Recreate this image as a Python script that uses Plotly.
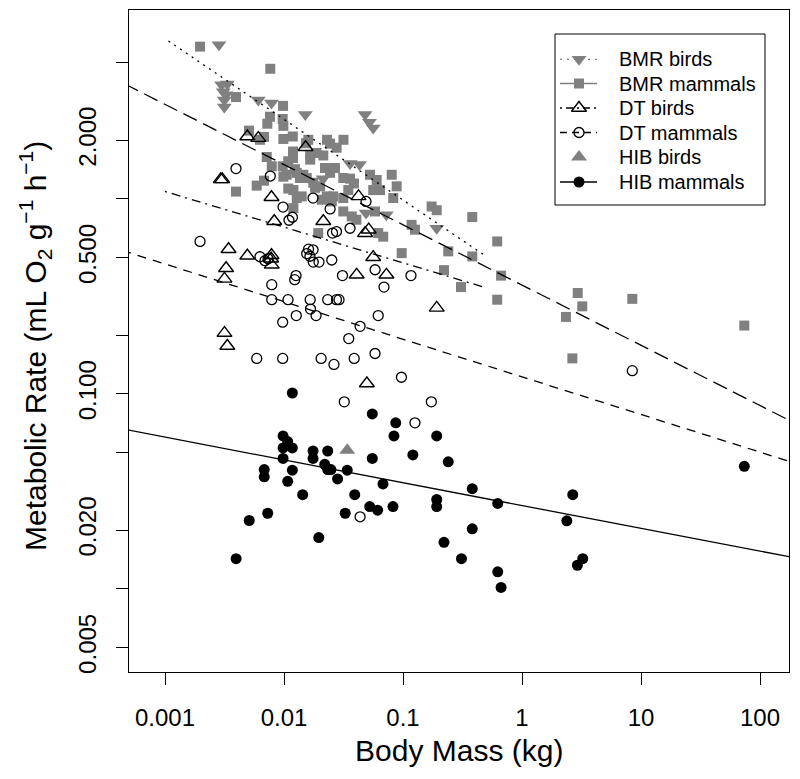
import plotly.graph_objects as go
import numpy as np

# ---------------- data (body mass in kg, metabolic rate in mL O2 g-1 h-1) ----------------
bmr_birds_mass = [0.00284, 0.00299, 0.00334, 0.00309, 0.00326, 0.00315, 0.00315, 0.00608, 0.00785, 0.0151,
                  0.048, 0.0522, 0.0562, 0.0213, 0.0359, 0.0431, 0.0489, 0.0724, 0.192]
bmr_birds_rate = [6.17, 3.85, 3.89, 3.55, 3.42, 3.22, 2.96, 3.22, 3.10, 2.71,
                  2.71, 2.47, 2.31, 1.27, 1.52, 1.50, 0.846, 0.830, 0.708]

bmr_mammals_mass = [0.00197, 0.00767, 0.00395, 0.00982, 0.00762, 0.00724, 0.00975, 0.00988, 0.00508, 0.00628,
                    0.00679, 0.00988, 0.01186, 0.0160, 0.01531, 0.0230, 0.0244, 0.0277, 0.0316, 0.01191,
                    0.01191, 0.01086, 0.00716, 0.00789, 0.00975, 0.01054, 0.00988, 0.0166, 0.0166, 0.01875,
                    0.0214, 0.0221, 0.0268, 0.0244, 0.01236, 0.0128, 0.01452, 0.01553, 0.0136, 0.01762,
                    0.0059, 0.00679, 0.00395, 0.01086, 0.01824, 0.0201, 0.0315, 0.0359, 0.0387, 0.0347,
                    0.0528, 0.0601, 0.0562, 0.0641, 0.0804, 0.0885, 0.0120, 0.01409, 0.0128, 0.0229,
                    0.0259, 0.0315, 0.0828, 0.0120, 0.0315, 0.0371, 0.0406, 0.0582, 0.174, 0.192,
                    0.118, 0.126, 0.0619, 0.0682, 0.0194, 0.0975, 0.240, 0.221, 0.382, 0.382,
                    0.619, 0.667, 0.307, 0.619, 2.94, 3.21, 2.34, 8.45, 2.65, 73.8,
                    0.0208, 0.0252]
bmr_mammals_rate = [6.04, 4.65, 3.33, 3.00, 2.64, 2.43, 2.57, 2.37, 2.24, 2.01,
                    2.08, 2.03, 2.09, 2.01, 1.93, 2.01, 1.92, 1.83, 2.01, 1.75,
                    1.62, 1.56, 1.64, 1.47, 1.47, 1.33, 1.30, 1.68, 1.59, 1.72,
                    1.67, 1.44, 1.44, 1.36, 1.42, 1.36, 1.33, 1.28, 1.28, 1.21,
                    1.17, 1.24, 1.09, 1.13, 1.14, 1.16, 1.28, 1.27, 1.20, 1.11,
                    1.33, 1.25, 1.11, 1.11, 1.33, 1.16, 1.11, 1.03, 1.01, 1.03,
                    1.03, 1.01, 1.01, 0.897, 0.862, 0.813, 0.782, 0.862, 0.914, 0.875,
                    0.736, 0.695, 0.668, 0.640, 0.668, 0.527, 0.538, 0.431, 0.807, 0.507,
                    0.605, 0.404, 0.353, 0.304, 0.329, 0.281, 0.248, 0.307, 0.152, 0.224,
                    0.990, 0.970]

dt_birds_mass = [0.00492, 0.00608, 0.01518, 0.00294, 0.00303, 0.00785, 0.0423, 0.0214, 0.00828, 0.0515,
                 0.0480, 0.00342, 0.00492, 0.00785, 0.0078, 0.00789, 0.0562, 0.00326, 0.00316, 0.0408,
                 0.0726, 0.192, 0.00316, 0.00334, 0.0497]
dt_birds_rate = [2.09, 2.05, 1.84, 1.26, 1.26, 1.02, 1.03, 0.768, 0.768, 0.695,
                 0.667, 0.552, 0.511, 0.514, 0.493, 0.459, 0.502, 0.441, 0.389, 0.408,
                 0.408, 0.276, 0.205, 0.176, 0.113]

dt_mammals_mass = [0.00395, 0.00767, 0.01754, 0.0489, 0.00982, 0.0244, 0.01178, 0.01101, 0.0359, 0.0276,
                   0.0256, 0.00197, 0.00628, 0.00692, 0.00735, 0.01754, 0.01607, 0.01553, 0.01652, 0.01762,
                   0.01968, 0.0252, 0.01262, 0.0123, 0.0310, 0.0583, 0.0692, 0.1167, 0.00789, 0.00789,
                   0.01081, 0.0166, 0.0233, 0.0276, 0.0290, 0.0167, 0.01268, 0.0186, 0.0619, 0.00975,
                   0.0436, 0.0350, 0.0059, 0.00975, 0.0205, 0.0263, 0.0389, 0.0582, 0.0970, 0.0321,
                   0.173, 0.126, 0.0436, 8.45]
dt_mammals_rate = [1.43, 1.31, 1.01, 0.970, 0.908, 0.888, 0.805, 0.777, 0.707, 0.680,
                   0.668, 0.605, 0.505, 0.482, 0.493, 0.548, 0.552, 0.524, 0.508, 0.474,
                   0.474, 0.486, 0.404, 0.385, 0.404, 0.433, 0.353, 0.404, 0.363, 0.304,
                   0.304, 0.304, 0.304, 0.304, 0.304, 0.272, 0.252, 0.252, 0.252, 0.233,
                   0.222, 0.192, 0.152, 0.152, 0.152, 0.1415, 0.152, 0.161, 0.1216, 0.0910,
                   0.0910, 0.0710, 0.0234, 0.1315]

hib_birds_mass = [0.034]
hib_birds_rate = [0.0514]

hib_mammals_mass = [0.01175, 0.0552, 0.0869, 0.0839, 0.192, 0.00982, 0.01074, 0.00982, 0.01175, 0.01754,
                    0.0233, 0.01754, 0.00982, 0.0552, 0.121, 0.240, 0.0220, 0.0233, 0.0248, 0.0340,
                    0.01175, 0.00682, 0.00682, 0.01074, 0.0282, 0.0679, 0.01435, 0.0393, 0.382, 0.192,
                    0.192, 0.0525, 0.0612, 0.0824, 0.0327, 0.0073, 0.0051, 0.0196, 0.221, 0.382,
                    0.310, 0.00396, 0.625, 0.625, 0.667, 2.67, 2.38, 3.24, 2.92, 73.8]
hib_mammals_rate = [0.101, 0.0789, 0.0710, 0.0608, 0.0608, 0.0608, 0.0569, 0.0528, 0.0528, 0.0509,
                    0.0509, 0.0466, 0.0466, 0.0466, 0.0486, 0.0448, 0.0435, 0.0409, 0.0409, 0.0406,
                    0.0406, 0.0409, 0.0375, 0.0356, 0.0366, 0.0345, 0.0304, 0.0304, 0.0326, 0.0287,
                    0.0264, 0.0264, 0.0253, 0.0264, 0.0244, 0.0244, 0.0224, 0.0183, 0.0173, 0.0203,
                    0.01426, 0.01426, 0.0274, 0.01222, 0.01016, 0.0304, 0.0223, 0.01426, 0.0132, 0.0425]

# fitted lines: log10(rate) = intercept + slope * log10(mass), over a mass range
fit_names = ["BMR birds", "BMR mammals", "DT birds", "DT mammals", "HIB mammals"]
fit_intercepts = [-0.420, -0.442, -0.511, -0.913, -1.573]
fit_slopes = [-0.414, -0.309, -0.183, -0.193, -0.117]
fit_mass_min = [0.00107, 1e-4, 0.001, 1e-4, 1e-4]
fit_mass_max = [0.473, 1e3, 0.473, 1e3, 1e3]

x_tick_vals = [0.001, 0.01, 0.1, 1, 10, 100]
x_tick_text = ["0.001", "0.01", "0.1", "1", "10", "100"]
y_tick_vals = [2, 0.5, 0.1, 0.02, 0.005]
y_tick_text = ["2.000", "0.500", "0.100", "0.020", "0.005"]
y_minor_vals = [5, 1, 0.2, 0.05, 0.01]

# ---------------- styling ----------------
GRAY = "#808080"
FONT = "Liberation Sans, Arial, Helvetica, sans-serif"
LW = 1.3
fit_styles = {
    "BMR birds": dict(color="black", dash="2px,5px"),
    "BMR mammals": dict(color="black", dash="15px,7px"),
    "DT birds": dict(color="black", dash="2px,5px,9px,5px"),
    "DT mammals": dict(color="black", dash="9px,7px"),
    "HIB mammals": dict(color="black", dash="solid"),
}

fig = go.Figure()

fig.add_trace(go.Scatter(x=bmr_mammals_mass, y=bmr_mammals_rate, mode="markers", name="BMR mammals",
                         marker=dict(symbol="square", size=10, color=GRAY), showlegend=False))
fig.add_trace(go.Scatter(x=bmr_birds_mass, y=bmr_birds_rate, mode="markers", name="BMR birds",
                         marker=dict(symbol="triangle-down", size=13, color=GRAY), showlegend=False))
fig.add_trace(go.Scatter(x=dt_mammals_mass, y=dt_mammals_rate, mode="markers", name="DT mammals",
                         marker=dict(symbol="circle-open", size=10, color="black", line=dict(width=1.3)),
                         showlegend=False))
fig.add_trace(go.Scatter(x=dt_birds_mass, y=dt_birds_rate, mode="markers", name="DT birds",
                         marker=dict(symbol="triangle-up-open", size=13, color="black", line=dict(width=1.4)),
                         showlegend=False))
fig.add_trace(go.Scatter(x=hib_mammals_mass, y=hib_mammals_rate, mode="markers", name="HIB mammals",
                         marker=dict(symbol="circle", size=11, color="black"), showlegend=False))
fig.add_trace(go.Scatter(x=hib_birds_mass, y=hib_birds_rate, mode="markers", name="HIB birds",
                         marker=dict(symbol="triangle-up", size=14, color=GRAY), showlegend=False))

for name, a, b, m0, m1 in zip(fit_names, fit_intercepts, fit_slopes, fit_mass_min, fit_mass_max):
    xs = np.array([m0, m1])
    ys = 10 ** (a + b * np.log10(xs))
    st = fit_styles[name]
    fig.add_trace(go.Scatter(x=xs, y=ys, mode="lines", showlegend=False, hoverinfo="skip",
                             line=dict(color=st["color"], width=LW, dash=st["dash"])))

# ---------------- page geometry (page has an 8px body margin) ----------------
OFF = 8
W, H = 800 - 2 * OFF, 779 - 2 * OFF
PL, PR, PT, PB = 129, 789, 10, 672          # plot frame in page pixels

# ---------------- legend (drawn on an overlay pixel axis) ----------------
leg_labels = ["BMR birds", "BMR mammals", "DT birds", "DT mammals", "HIB birds", "HIB mammals"]
leg_rows = [59.3, 83.5, 108.0, 132.5, 157.0, 182.0]
leg_marker = [dict(symbol="triangle-down", size=13, color=GRAY),
              dict(symbol="square", size=10, color=GRAY),
              dict(symbol="triangle-up-open", size=13, color="black", line=dict(width=1.4)),
              dict(symbol="circle-open", size=10, color="black", line=dict(width=1.3)),
              dict(symbol="triangle-up", size=14, color=GRAY),
              dict(symbol="circle", size=11, color="black")]
leg_line = [dict(color=GRAY, dash="2px,5px"), dict(color=GRAY, dash="15px,7px"),
            dict(color="black", dash="2px,4px,7px,4px"), dict(color="black", dash="7px,5px"),
            None, dict(color="black", dash="solid")]
for lab, ry, mk, ln in zip(leg_labels, leg_rows, leg_marker, leg_line):
    if ln is not None:
        fig.add_trace(go.Scatter(x=[560, 597], y=[ry, ry], xaxis="x2", yaxis="y2", mode="lines",
                                 line=dict(width=LW, **ln), showlegend=False, hoverinfo="skip"))
    fig.add_trace(go.Scatter(x=[579], y=[ry], xaxis="x2", yaxis="y2", mode="markers",
                             marker=mk, showlegend=False, hoverinfo="skip"))
    fig.add_annotation(x=617, y=ry, xref="x2", yref="y2", text=lab, showarrow=False,
                       xanchor="left", yanchor="middle", font=dict(family=FONT, size=20, color="black"))

fig.add_shape(type="rect", xref="x2", yref="y2", x0=555, x1=765, y0=34, y1=205,
              line=dict(color="black", width=1), fillcolor="rgba(0,0,0,0)", layer="above")

# axis titles
fig.add_annotation(x=0.5, y=(PB - 750) / (PB - PT), xref="paper", yref="paper", showarrow=False,
                   text="Body Mass (kg)", xanchor="center", yanchor="middle",
                   font=dict(family=FONT, size=30, color="black"))
fig.add_annotation(x=(35 - PL) / (PR - PL), y=(PB - 346) / (PB - PT), xref="paper", yref="paper",
                   showarrow=False, textangle=-90, xanchor="center", yanchor="middle",
                   text="Metabolic Rate (mL O<sub>2</sub> g<sup>\u22121</sup> h<sup>\u22121</sup>)",
                   font=dict(family=FONT, size=30, color="black"))

axis_common = dict(showgrid=False, zeroline=False, showline=True, mirror=True, linecolor="black",
                   linewidth=1, ticks="outside", ticklen=12, tickwidth=1, tickcolor="black",
                   tickfont=dict(family=FONT, size=24, color="black"))

fig.update_layout(
    width=W, height=H,
    margin=dict(l=PL - OFF, r=W - (PR - OFF), t=PT - OFF, b=H - (PB - OFF), autoexpand=False),
    paper_bgcolor="white", plot_bgcolor="white",
    showlegend=False,
    xaxis=dict(type="log", range=[-3.3025, 2.2437], tickmode="array", tickvals=x_tick_vals,
               ticktext=x_tick_text, ticklabelstandoff=12, **axis_common),
    yaxis=dict(type="log", range=[-2.427, 0.969], tickmode="array", tickvals=y_tick_vals,
               ticktext=y_tick_text, tickangle=-90, ticklabelstandoff=10,
               minor=dict(tickmode="array", tickvals=y_minor_vals, ticks="outside", ticklen=12,
                          tickwidth=1, tickcolor="black", showgrid=False),
               **axis_common),
    xaxis2=dict(overlaying="x", range=[PL, PR], visible=False, anchor="y2", fixedrange=True),
    yaxis2=dict(overlaying="y", range=[PB, PT], visible=False, anchor="x2", fixedrange=True),
)

fig.write_html("out.html")
